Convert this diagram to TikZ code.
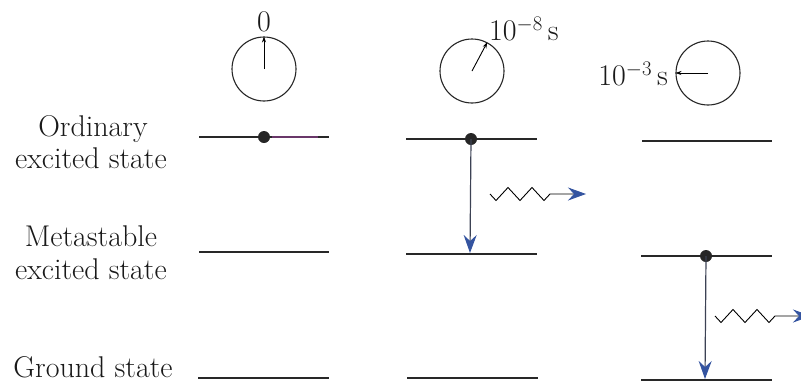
\documentclass[tikz,border=0pt]{standalone}
\usetikzlibrary{arrows.meta,decorations.pathmorphing}
\definecolor{arrowblue}{RGB}{52,84,160}
\definecolor{shaft}{RGB}{60,66,84}
\definecolor{lvl}{RGB}{40,40,40}
\definecolor{tint}{RGB}{105,55,105}
\begin{document}
\begin{tikzpicture}[x=1pt,y=-1pt,
  txt/.style={font=\fontsize{30}{35}\selectfont, inner sep=0pt, text=black!90},
  lbl/.style={txt, anchor=base},
  level/.style={line width=1.2pt, draw=lvl},
  dot/.style={circle, fill=black!85, inner sep=0pt, minimum size=12pt},
  clock/.style={circle, draw=black!85, line width=1.1pt, minimum size=64pt, inner sep=0pt},
  hand/.style={line width=0.9pt, -{Stealth[length=6pt,width=4pt]}},
  bluetip/.style={-{Stealth[length=18pt,width=13pt,inset=6pt,fill=arrowblue,color=arrowblue]}},
  drop/.style={line width=1.2pt, draw=shaft, bluetip},
  photon/.style={line width=0.9pt, bluetip, decorate,
    decoration={zigzag, mirror, amplitude=6.5pt, segment length=24pt, post length=26pt}}
]
\useasboundingbox (0,0) rectangle (801,384);

% left labels
\node[lbl] (o1) at (93,136) {Ordinary};
\node[lbl] (o2) at (91,168) {excited state};
\node[lbl] (m1) at (91,246) {Metastable};
\node[lbl] (m2) at (91,279) {excited state};
\node[lbl] (g1) at (93,377) {Ground state};

% level lines
\coordinate (O1a) at (199,137); \coordinate (O1b) at (329,137);
\coordinate (M1a) at (199,252); \coordinate (M1b) at (329,252);
\coordinate (G1a) at (198,378); \coordinate (G1b) at (329,378);
\coordinate (O2a) at (406,139); \coordinate (O2b) at (537,139);
\coordinate (M2a) at (406,254); \coordinate (M2b) at (537,254);
\coordinate (G2a) at (407,378); \coordinate (G2b) at (538,378);
\coordinate (O3a) at (642,141); \coordinate (O3b) at (772,141);
\coordinate (M3a) at (641,256); \coordinate (M3b) at (772,256);
\coordinate (G3a) at (641,380); \coordinate (G3b) at (772,380);

\draw[level] (O1a) -- (O1b);
\draw[level, draw=tint] (272,137) -- (318,137);
\draw[level] (M1a) -- (M1b);
\draw[level] (G1a) -- (G1b);
\draw[level] (O2a) -- (O2b);
\draw[level] (M2a) -- (M2b);
\draw[level] (G2a) -- (G2b);
\draw[level] (O3a) -- (O3b);
\draw[level] (M3a) -- (M3b);
\draw[level] (G3a) -- (G3b);

% electrons
\node[dot] (d1) at (264,137) {};
\node[dot] (d2) at (471,139) {};
\node[dot] (d3) at (706,256) {};

% transitions
\coordinate (t2) at (470,253);
\coordinate (t3) at (705,379);
\draw[drop] (d2.center) -- (t2);
\draw[drop] (d3.center) -- (t3);

% photons
\coordinate (p2a) at (490,194); \coordinate (p2b) at (586,194);
\coordinate (p3a) at (715,316); \coordinate (p3b) at (811,316);
\draw[photon] (p2a) -- (p2b);
\draw[photon] (p3a) -- (p3b);

% clocks
\node[clock] (c1) at (264,69) {};
\node[clock] (c2) at (472,71) {};
\node[clock] (c3) at (708,73) {};
\draw[hand] (c1.center) -- (c1.north);
\draw[hand] (c2.center) -- (c2.62);
\draw[hand] (c3.center) -- (c3.west);

% time labels
\node[lbl] (l1) at (264,31) {0};
\node[txt, anchor=base west] (l2) at (489,40) {10$^{-8}$\,s};
\node[txt, anchor=base east] (l3) at (668,85) {10$^{-3}$\,s};
\end{tikzpicture}
\end{document}
